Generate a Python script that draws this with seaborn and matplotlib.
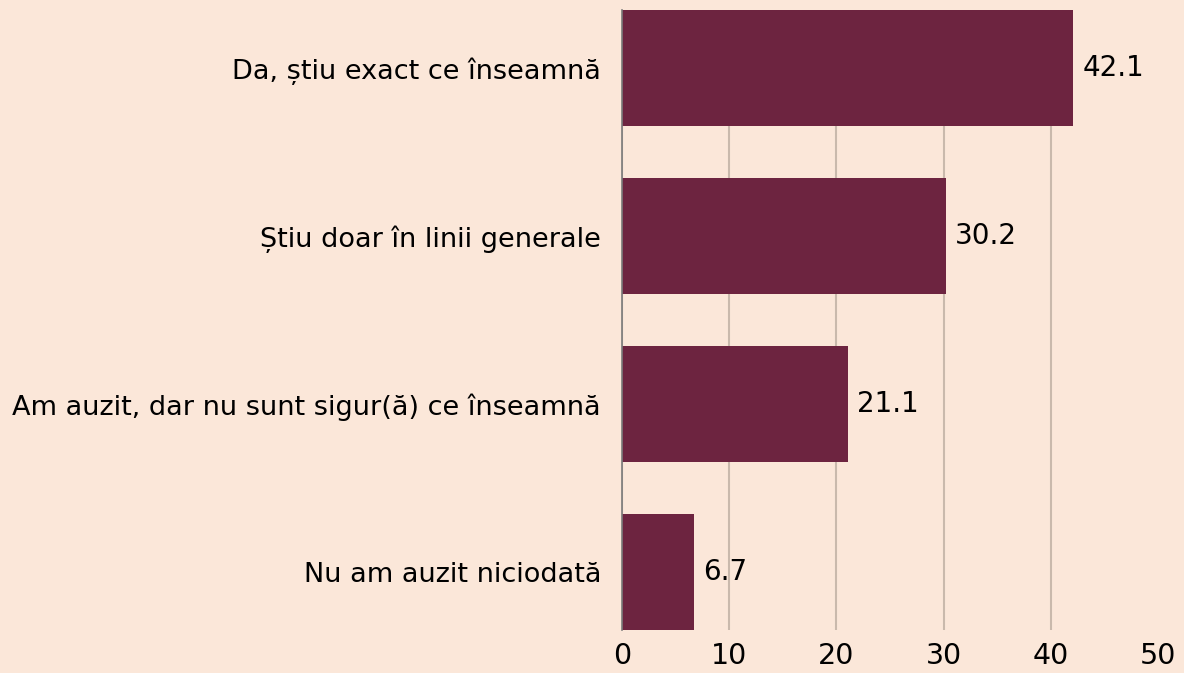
import matplotlib
matplotlib.use("Agg")
import matplotlib.pyplot as plt
import seaborn as sns
import pandas as pd

# raspunsuri si procente
categories = [
    "Da, știu exact ce înseamnă",
    "Știu doar în linii generale",
    "Am auzit, dar nu sunt sigur(ă) ce înseamnă",
    "Nu am auzit niciodată",
]
values = [42.1, 30.2, 21.1, 6.7]
ticks = [0, 10, 20, 30, 40, 50]

bg = "#FBE7D9"
bar_color = "#6D2440"

sns.set_theme(style="white")
plt.rcParams["font.family"] = ["DejaVu Sans"]

df = pd.DataFrame({"cat": categories, "val": values})

fig = plt.figure(figsize=(11.84, 6.73), dpi=100, facecolor=bg)
ax = fig.add_axes([0.5253, 0.0639, 0.4527, 0.9212], facecolor=bg)

sns.barplot(data=df, x="val", y="cat", color=bar_color, saturation=1,
            width=0.69, linewidth=0, ax=ax, zorder=3)

ax.set_xlim(0, 50)
ax.set_ylim(3.345, -0.345)
ax.set_xticks(ticks)
ax.set_xlabel("")
ax.set_ylabel("")

ax.grid(axis="x", color="#C9B9AC", linewidth=1.5, zorder=0)
ax.set_axisbelow(True)
ax.xaxis.get_gridlines()[-1].set_visible(False)

for s in ["top", "right", "bottom"]:
    ax.spines[s].set_visible(False)
ax.spines["left"].set_color("#7A7A7A")
ax.spines["left"].set_linewidth(1.2)
ax.spines["left"].set_zorder(4)

ax.tick_params(axis="y", length=0, pad=15, labelsize=19.5, labelcolor="black")
ax.tick_params(axis="x", length=0, pad=9, labelsize=20.5, labelcolor="black")

for i, v in enumerate(values):
    ax.text(v + 0.85, i, f"{v:.1f}", va="center", ha="left",
            fontsize=20, color="black", zorder=5)

fig.savefig("out.png", dpi=100, facecolor=bg)
